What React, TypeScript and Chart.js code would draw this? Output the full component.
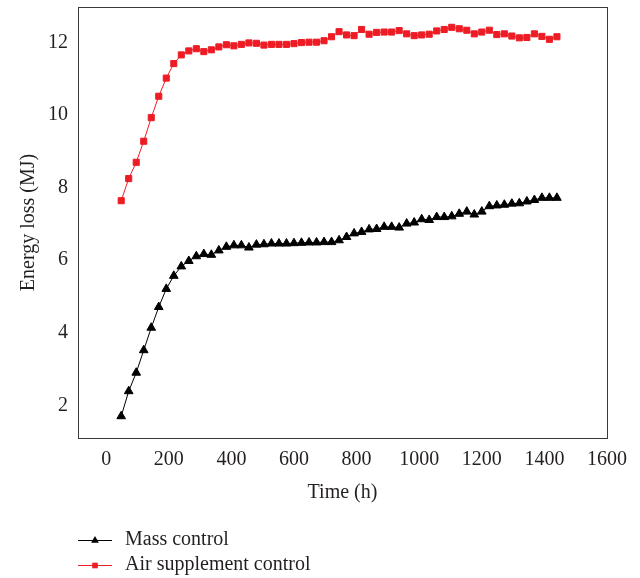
import React, { useEffect, useRef } from 'react';
import { Chart, registerables } from 'chart.js';

Chart.register(...registerables);

// ---- data ----
const hours = [
  48, 72, 96, 120, 144, 168, 192, 216, 240, 264, 288, 312, 336, 360, 384, 408, 432, 456, 480, 504,
  528, 552, 576, 600, 624, 648, 672, 696, 720, 744, 768, 792, 816, 840, 864, 888, 912, 936, 960, 984,
  1008, 1032, 1056, 1080, 1104, 1128, 1152, 1176, 1200, 1224, 1248, 1272, 1296, 1320, 1344, 1368, 1392, 1416, 1440,
];

const massControl = [
  1.70, 2.39, 2.90, 3.52, 4.14, 4.71, 5.21, 5.57, 5.83, 5.98, 6.11, 6.17, 6.15, 6.27, 6.37, 6.41, 6.41, 6.35, 6.43, 6.44,
  6.46, 6.46, 6.46, 6.47, 6.48, 6.49, 6.49, 6.50, 6.50, 6.55, 6.64, 6.74, 6.78, 6.85, 6.86, 6.92, 6.92, 6.90, 7.01, 7.04,
  7.13, 7.11, 7.19, 7.19, 7.21, 7.28, 7.34, 7.26, 7.34, 7.49, 7.51, 7.53, 7.56, 7.57, 7.62, 7.66, 7.72, 7.72, 7.72,
];

const airSupplementControl = [
  7.64, 8.25, 8.70, 9.28, 9.93, 10.52, 11.02, 11.42, 11.66, 11.77, 11.83, 11.75, 11.80, 11.88, 11.94, 11.91, 11.95, 11.99, 11.98, 11.93,
  11.95, 11.95, 11.95, 11.97, 12.00, 12.01, 12.01, 12.05, 12.16, 12.30, 12.21, 12.19, 12.36, 12.23, 12.28, 12.29, 12.29, 12.33, 12.24, 12.19,
  12.21, 12.23, 12.32, 12.36, 12.42, 12.38, 12.34, 12.24, 12.29, 12.34, 12.22, 12.24, 12.18, 12.13, 12.14, 12.24, 12.17, 12.09, 12.16,
];

const seriesNames = ['Mass control', 'Air supplement control'];
const xTickValues = [0, 200, 400, 600, 800, 1000, 1200, 1400, 1600];
const yTickValues = [2, 4, 6, 8, 10, 12];
const xTitle = 'Time (h)';
const yTitle = 'Energy loss (MJ)';

const FONT = '"Liberation Serif", "Times New Roman", "DejaVu Serif", serif';
const TEXT = '#231f20';
const RED = '#ed1c24';
const BLACK = '#000000';

function drawMarker(ctx: CanvasRenderingContext2D, style: string, x: number, y: number, r: number, color: string) {
  ctx.save();
  ctx.fillStyle = color;
  ctx.beginPath();
  if (style === 'triangle') {
    ctx.moveTo(x, y - r);
    ctx.lineTo(x + r * 0.866, y + r * 0.5);
    ctx.lineTo(x - r * 0.866, y + r * 0.5);
    ctx.closePath();
  } else {
    ctx.rect(x - r, y - r, 2 * r, 2 * r);
  }
  ctx.fill();
  ctx.restore();
}

export default function App() {
  const ref = useRef<HTMLCanvasElement | null>(null);

  useEffect(() => {
    const canvas = ref.current;
    if (!canvas) return;

    const framePlugin = {
      id: 'frameBox',
      beforeDatasetsDraw(chart: any) {
        const { ctx, chartArea: a } = chart;
        ctx.save();
        ctx.strokeStyle = '#3a3a3a';
        ctx.lineWidth = 1;
        ctx.strokeRect(Math.round(a.left) + 0.5, Math.round(a.top) + 0.5, Math.round(a.right - a.left), Math.round(a.bottom - a.top));
        ctx.restore();
      },
    };

    const legendPlugin = {
      id: 'stackLegend',
      afterDraw(chart: any) {
        const { ctx } = chart;
        const rows = [540, 565];
        const styles = [
          { pt: 'triangle', r: 4.5, color: BLACK },
          { pt: 'rect', r: 2.8, color: RED },
        ];
        chart.data.datasets.forEach((ds: any, i: number) => {
          const y = rows[i];
          const s = styles[i];
          ctx.save();
          ctx.strokeStyle = s.color;
          ctx.lineWidth = 1.2;
          ctx.beginPath();
          ctx.moveTo(78, y + 0.5);
          ctx.lineTo(112, y + 0.5);
          ctx.stroke();
          ctx.restore();
          drawMarker(ctx, s.pt, 95, y + 0.5, s.r, s.color);
          ctx.save();
          ctx.fillStyle = TEXT;
          ctx.font = `20px ${FONT}`;
          ctx.textBaseline = 'middle';
          ctx.textAlign = 'left';
          ctx.fillText(ds.label, 125, y);
          ctx.restore();
        });
      },
    };

    const chart = new Chart(canvas, {
      type: 'scatter',
      data: {
        datasets: [
          {
            label: seriesNames[0],
            data: hours.map((h, i) => ({ x: h, y: massControl[i] })),
            showLine: true,
            borderColor: BLACK,
            backgroundColor: BLACK,
            borderWidth: 1,
            pointStyle: 'triangle',
            pointRadius: 5,
            pointBorderWidth: 1,
            pointBorderColor: BLACK,
            pointBackgroundColor: BLACK,
          },
          {
            label: seriesNames[1],
            data: hours.map((h, i) => ({ x: h, y: airSupplementControl[i] })),
            showLine: true,
            borderColor: RED,
            backgroundColor: RED,
            borderWidth: 1,
            pointStyle: 'rect',
            pointRadius: 4.3,
            pointBorderWidth: 1,
            pointBorderColor: RED,
            pointBackgroundColor: RED,
          },
        ],
      },
      options: {
        animation: false,
        responsive: false,
        maintainAspectRatio: false,
        layout: { padding: { left: 0, top: 7, right: 33, bottom: 73 } },
        plugins: {
          legend: { display: false },
          tooltip: { enabled: false },
        },
        scales: {
          x: {
            type: 'linear',
            min: -90,
            max: 1600,
            grid: { display: false, drawTicks: false },
            border: { display: false },
            afterBuildTicks: (s: any) => {
              s.ticks = xTickValues.map((v) => ({ value: v }));
            },
            afterFit: (s: any) => {
              s.height = 67;
            },
            ticks: {
              padding: 10,
              color: TEXT,
              font: { family: FONT, size: 20 },
              maxRotation: 0,
              autoSkip: false,
              callback: (v: any) => String(v),
            },
            title: {
              display: true,
              text: xTitle,
              color: TEXT,
              font: { family: FONT, size: 20 },
              padding: { top: 0, bottom: 0 },
            },
          },
          y: {
            type: 'linear',
            min: 1.1,
            max: 12.98,
            grid: { display: false, drawTicks: false },
            border: { display: false },
            afterBuildTicks: (s: any) => {
              s.ticks = yTickValues.map((v) => ({ value: v }));
            },
            afterFit: (s: any) => {
              s.width = 78;
              s.paddingTop = 0;
              s.paddingBottom = 0;
            },
            ticks: {
              padding: 10,
              color: TEXT,
              font: { family: FONT, size: 20 },
              autoSkip: false,
              callback: (v: any) => String(v),
            },
            title: {
              display: true,
              text: yTitle,
              color: TEXT,
              font: { family: FONT, size: 20 },
              padding: { top: 17, bottom: 0 },
            },
          },
        },
      },
      plugins: [framePlugin, legendPlugin],
    } as any);

    return () => {
      chart.destroy();
    };
  }, []);

  return (
    <div style={{ position: 'fixed', left: 0, top: 0, width: 640, height: 578, background: '#ffffff' }}>
      <canvas ref={ref} width={640} height={578} style={{ display: 'block', width: 640, height: 578 }} />
    </div>
  );
}
